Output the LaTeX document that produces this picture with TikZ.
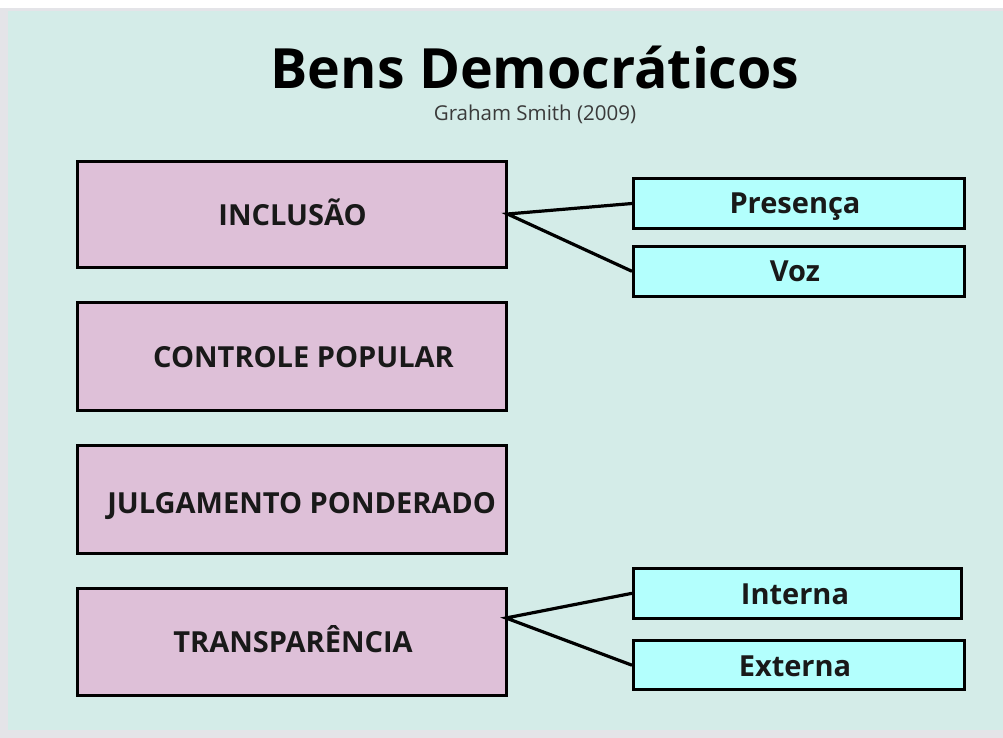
\documentclass[tikz,border=0pt]{standalone}
\usepackage{fontspec}
\setmainfont{Open Sans}
\definecolor{mint}{HTML}{D4ECE8}
\definecolor{outer}{HTML}{E4E4E8}
\definecolor{pinkbox}{HTML}{DEC0D8}
\definecolor{cyanbox}{HTML}{B3FFFD}
\definecolor{subgray}{HTML}{3A3A3A}
\begin{document}
\begin{tikzpicture}[x=1bp,y=-1bp,
  mainbox/.style={draw=black,line width=3bp,fill=pinkbox,rectangle,inner sep=0pt},
  subbox/.style={draw=black,line width=3bp,fill=cyanbox,rectangle,inner sep=0pt},
  lbl/.style={font=\bfseries\fontsize{29bp}{33bp}\selectfont,text=black!90,inner sep=0pt,anchor=base},
  conn/.style={draw=black,line width=3.2bp}]
\useasboundingbox (0,0) rectangle (1003,738);
\fill[white] (0,0) rectangle (1003,738);
\fill[outer] (0,8) rectangle (1003,738);
\fill[mint] (8,11) rectangle (1003,730);
% title
\node[inner sep=0pt,anchor=base,font=\bfseries\fontsize{55.5bp}{60bp}\selectfont] (title) at (535,89) {Bens Democráticos};
\node[inner sep=0pt,anchor=base,text=subgray,font=\fontsize{20.5bp}{24bp}\selectfont] (subtitle) at (535,120) {Graham Smith (2009)};
% main boxes
\node[mainbox,minimum width=428.5bp,minimum height=106bp] (inc) at (291.75,214) {};
\node[mainbox,minimum width=428.5bp,minimum height=108bp] (con) at (291.75,356.5) {};
\node[mainbox,minimum width=428.5bp,minimum height=108bp] (jul) at (291.75,499) {};
\node[mainbox,minimum width=428.5bp,minimum height=107bp] (tra) at (291.75,641.5) {};
\node[lbl] (tinc) at (292.5,225) {INCLUSÃO};
\node[lbl] (tcon) at (303.5,367) {CONTROLE POPULAR};
\node[lbl] (tjul) at (301.7,513) {JULGAMENTO PONDERADO};
\node[lbl] (ttra) at (293,652) {TRANSPARÊNCIA};
% sub boxes
\node[subbox,minimum width=331bp,minimum height=50.5bp] (pre) at (799,203.5) {};
\node[subbox,minimum width=331bp,minimum height=50.5bp] (voz) at (799,271.3) {};
\node[subbox,minimum width=328bp,minimum height=50bp] (int) at (797.5,593.3) {};
\node[subbox,minimum width=331bp,minimum height=48.5bp] (ext) at (799,665.2) {};
\node[lbl] (tpre) at (795,213.3) {Presença};
\node[lbl] (tvoz) at (795,281.7) {Voz};
\node[lbl] (tint) at (795,604) {Interna};
\node[lbl] (text) at (795,676.7) {Externa};
% connectors
\coordinate (cinc) at (inc.east);
\coordinate (ctra) at (506,618);
\draw[conn] (pre.west) -- (cinc) -- (voz.west);
\draw[conn] (int.west) -- (ctra) -- (ext.west);
\end{tikzpicture}
\end{document}
